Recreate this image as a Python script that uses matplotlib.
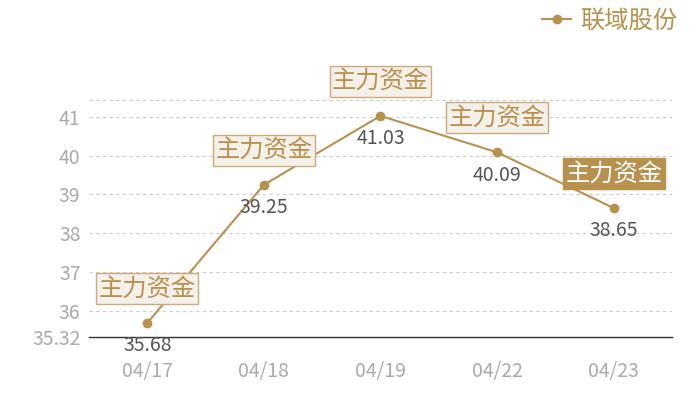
import matplotlib
matplotlib.use("Agg")
import matplotlib.pyplot as plt
from matplotlib.lines import Line2D

plt.rcParams['font.family'] = ['Noto Sans CJK SC', 'DejaVu Sans']

dates = ["04/17", "04/18", "04/19", "04/22", "04/23"]
prices = [35.68, 39.25, 41.03, 40.09, 38.65]
tags = ["主力资金", "主力资金", "主力资金", "主力资金", "主力资金"]
series_name = "联域股份"
y_ticks = [36, 37, 38, 39, 40, 41]

gold = "#B8914F"
box_face = "#F4F0EA"
box_edge = "#CBAA7C"
tick_grey = "#AAAAAA"

ymin = round(min(prices) * 0.99, 2)
ymax = round(max(prices) * 1.01, 2)

fig = plt.figure(figsize=(7, 4), dpi=100)
ax = fig.add_axes([0.127, 0.1575, 0.833, 0.5925])

x = list(range(len(dates)))
ax.plot(x, prices, color=gold, lw=1.5, marker="o", ms=6, zorder=3)

ax.set_xlim(-0.5, len(dates) - 0.5)
ax.set_ylim(ymin, ymax)

for yv in y_ticks + [ymax]:
    ax.axhline(yv, color="#CCCCCC", lw=0.8, ls=(0, (3, 3)), zorder=0)

ax.set_yticks([ymin] + y_ticks)
ax.set_yticklabels([f"{ymin:g}"] + [str(v) for v in y_ticks])
ax.set_xticks(x)
ax.set_xticklabels(dates)
ax.tick_params(axis="both", length=0, colors=tick_grey, labelsize=14)
ax.tick_params(axis="x", pad=17)
ax.tick_params(axis="y", pad=6)

for side in ["top", "right", "left"]:
    ax.spines[side].set_visible(False)
ax.spines["bottom"].set_color("#333333")
ax.spines["bottom"].set_linewidth(1)

for i, (xi, yi, tg) in enumerate(zip(x, prices, tags)):
    ax.annotate(f"{yi:.2f}", (xi, yi), xytext=(0, -16.5), textcoords="offset points",
                ha="center", va="center", fontsize=14, color="#555555")
    last = i == len(x) - 1
    ax.annotate(tg, (xi, yi), xytext=(0, 25), textcoords="offset points",
                ha="center", va="center", fontsize=17.5,
                color="white" if last else gold,
                bbox=dict(boxstyle="square,pad=0.1",
                          fc=gold if last else box_face,
                          ec=gold if last else box_edge, lw=1))

handle = Line2D([], [], color=gold, marker="o", ms=6, lw=1.5)
fig.legend([handle], [series_name], loc="upper right", bbox_to_anchor=(0.998, 1.035),
           frameon=False, fontsize=17.5, labelcolor=gold, handlelength=1.2,
           handletextpad=0.35)

fig.savefig("out.png", dpi=100)
